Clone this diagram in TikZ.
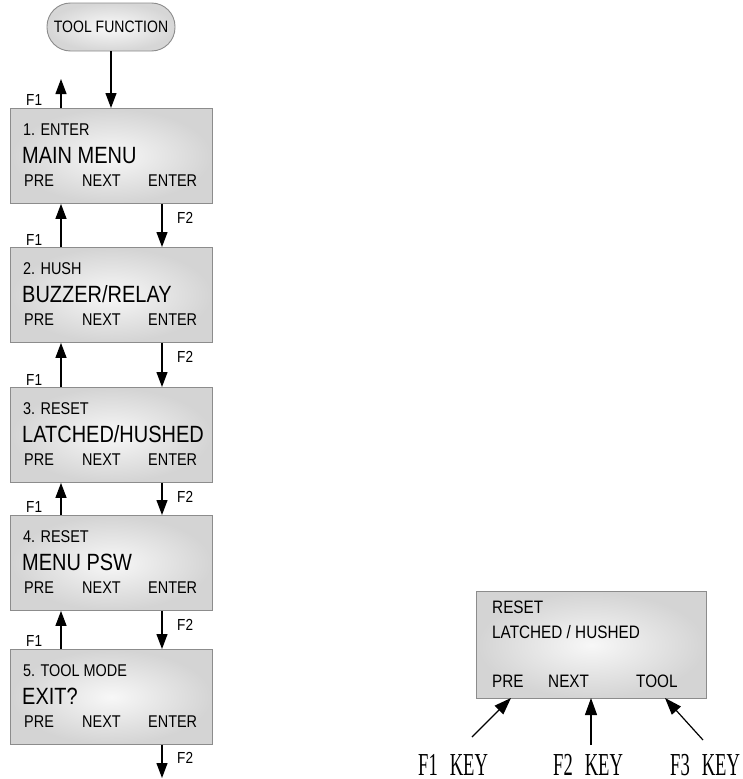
\documentclass[tikz,border=0pt]{standalone}
\usepackage{fontspec}
\setmainfont{Liberation Sans}[FakeStretch=0.85]
\newfontfamily\keyfont{Liberation Serif}[FakeStretch=0.58]
\usetikzlibrary{arrows.meta}
\tikzset{
  lcd/.style={draw=black!45, line width=0.9pt, inner color=black!3, outer color=black!17,
    minimum width=202pt, minimum height=95pt, inner sep=0pt, anchor=north west},
  pill/.style={draw=black!45, line width=0.9pt, inner color=black!2, outer color=black!16,
    minimum width=128pt, minimum height=48pt, rounded corners=23.5pt, inner sep=0pt,
    font=\fontsize{16.5}{19}\selectfont},
  txs/.style={anchor=base west, inner sep=0pt, font=\fontsize{17}{20}\selectfont},
  txb/.style={anchor=base west, inner sep=0pt, font=\fontsize{23.5}{28}\selectfont},
  txr/.style={anchor=base west, inner sep=0pt, font=\fontsize{18}{21}\selectfont},
  flab/.style={anchor=base west, inner sep=0pt, font=\fontsize{16}{19}\selectfont},
  keylab/.style={anchor=base west, inner sep=0pt, font=\keyfont\fontsize{32}{35}\selectfont},
  arr/.style={line width=1.2pt, -{Triangle[length=15pt,width=11pt]}},
  arrk/.style={line width=1.2pt, -{Triangle[length=17pt,width=12pt]}}
}
\newcommand\lcdbox[4]{%
  \node[lcd] (#1) at (10,#2) {};
  \node[txs] (#1s) at (23,#2+27) {#3};
  \node[txb] (#1b) at (22,#2+55) {#4};
  \node[txs] (#1p) at (24,#2+78) {PRE};
  \node[txs] (#1n) at (82,#2+78) {NEXT};
  \node[txs] (#1e) at (148,#2+78) {ENTER};
}
\begin{document}
\begin{tikzpicture}[x=1pt,y=-1pt]
\useasboundingbox (0,0) rectangle (743,779);
% pill
\node[pill] (tf) at (111,27) {TOOL FUNCTION};
% boxes
\lcdbox{b1}{108}{1. ENTER}{MAIN MENU}
\lcdbox{b2}{247}{2. HUSH}{BUZZER/RELAY}
\lcdbox{b3}{387}{3. RESET}{LATCHED/HUSHED}
\lcdbox{b4}{515}{4. RESET}{MENU PSW}
\lcdbox{b5}{649}{5. TOOL MODE}{EXIT?}
% helper coordinates
\coordinate (L) at (61,0);
\coordinate (R) at (162,0);
\coordinate (t1) at (61,79);
\coordinate (e5) at (162,778);
% arrows
\draw[arr] (tf) -- (tf |- b1.north);
\draw[arr] (b1.north -| L) -- (t1);
\draw[arr] (b2.north -| L) -- (b1.south -| L);
\draw[arr] (b3.north -| L) -- (b2.south -| L);
\draw[arr] (b4.north -| L) -- (b3.south -| L);
\draw[arr] (b5.north -| L) -- (b4.south -| L);
\draw[arr] (b1.south -| R) -- (b2.north -| R);
\draw[arr] (b2.south -| R) -- (b3.north -| R);
\draw[arr] (b3.south -| R) -- (b4.north -| R);
\draw[arr] (b4.south -| R) -- (b5.north -| R);
\draw[arr] (b5.south -| R) -- (e5);
% F labels
\node[flab] (f1a) at (26,105) {F1};
\node[flab] (f1b) at (26,245) {F1};
\node[flab] (f1c) at (26,385) {F1};
\node[flab] (f1d) at (26,512) {F1};
\node[flab] (f1e) at (26,646) {F1};
\node[flab] (f2a) at (177,223) {F2};
\node[flab] (f2b) at (177,362) {F2};
\node[flab] (f2c) at (177,502) {F2};
\node[flab] (f2d) at (177,630) {F2};
\node[flab] (f2e) at (177,763) {F2};
% right panel
\node[lcd, minimum width=230pt, minimum height=107pt] (rb) at (476,591) {};
\node[txr] (r1) at (492,613) {RESET};
\node[txr] (r2) at (492,638) {LATCHED / HUSHED};
\node[txr] (r3) at (492,687) {PRE};
\node[txr] (r4) at (548,687) {NEXT};
\node[txr] (r5) at (636,687) {TOOL};
\coordinate (k1t) at (472,737);
\coordinate (k1h) at (511,698);
\coordinate (k2t) at (591,745);
\coordinate (k2h) at (591,698);
\coordinate (k3t) at (703,740);
\coordinate (k3h) at (665,698);
\draw[arrk] (k1t) -- (k1h);
\draw[arrk] (k2t) -- (k2h);
\draw[arrk] (k3t) -- (k3h);
\node[keylab] (kf1) at (418,775) {F1\hspace{12pt}KEY};
\node[keylab] (kf2) at (553,775) {F2\hspace{12pt}KEY};
\node[keylab] (kf3) at (670,775) {F3\hspace{12pt}KEY};
\end{tikzpicture}
\end{document}
